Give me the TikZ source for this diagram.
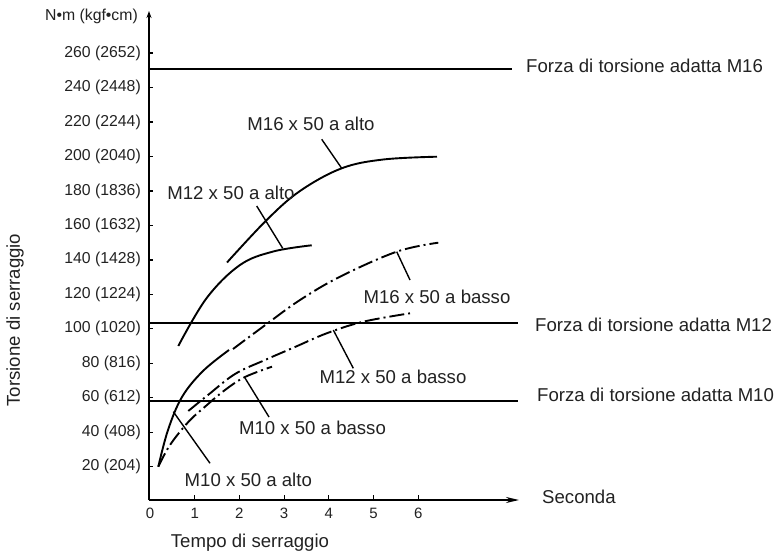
\documentclass[tikz,border=0pt]{standalone}
\usepackage{fontspec}
\setmainfont{Liberation Sans}
\usetikzlibrary{arrows.meta}
\definecolor{txt}{HTML}{222222}
\begin{document}
\begin{tikzpicture}[x=1pt,y=-1pt,
  lbl/.style={font=\fontsize{18.6}{20}\selectfont, text=txt, inner sep=0pt},
  tck/.style={font=\fontsize{15.8}{18}\selectfont, text=txt, inner sep=0pt, anchor=east},
  xtck/.style={font=\fontsize{15}{17}\selectfont, text=txt, inner sep=0pt},
  axisline/.style={line width=1.7pt, black},
  hline/.style={line width=1.6pt, black},
  solidcurve/.style={line width=1.9pt, black},
  dashcurve/.style={line width=1.9pt, black, dash pattern=on 15pt off 4pt on 2pt off 4pt},
  leader/.style={line width=1.4pt, black}]
\path[use as bounding box, fill=white] (0,0) rectangle (782,556);

% axes
\coordinate (O) at (149,500);
\coordinate (ytop) at (149,11);
\coordinate (xend) at (519,500);
\draw[axisline, -{Stealth[length=7pt,width=5pt]}] (O) -- (ytop);
\draw[axisline, -{Stealth[length=13pt,width=6pt]}] (O) -- (xend);

% y ticks and labels
\foreach \v/\k in {20/204,40/408,60/612,80/816,100/1020,120/1224,140/1428,160/1632,180/1836,200/2040,220/2244,240/2448,260/2652}{
  \draw[line width=1.2pt] (149,{501.2-\v*1.7235}) -- (153,{501.2-\v*1.7235});
  \node[tck] (yl\v) at (141,{501.2-\v*1.7235}) {\v\ (\k)};
}
\node[tck] (unit) at (138,16) {N•m (kgf•cm)};

% x ticks and labels
\foreach \t in {1,...,6}{
  \draw[line width=1.2pt] ({150+44.7*\t},500) -- ({150+44.7*\t},495);
}
\foreach \t in {0,...,6}{
  \node[xtck] (xl\t) at ({150+44.7*\t},513) {\t};
}

% axis titles
\node[lbl, rotate=90] (ytitle) at (15,320) {Torsione di serraggio};
\node[lbl] (xtitle) at (250,543) {Tempo di serraggio};
\node[lbl, anchor=west] (sec) at (542,497) {Seconda};

% horizontal limit lines
\coordinate (h16a) at (149,69);   \coordinate (h16b) at (512,69);
\coordinate (h12a) at (149,323);  \coordinate (h12b) at (518,323);
\coordinate (h10a) at (149,401);  \coordinate (h10b) at (518,401);
\draw[hline] (h16a) -- (h16b);
\draw[hline] (h12a) -- (h12b);
\draw[hline] (h10a) -- (h10b);
\node[lbl, anchor=west] (f16) at (526,66) {Forza di torsione adatta M16};
\node[lbl, anchor=west] (f12) at (535,325) {Forza di torsione adatta M12};
\node[lbl, anchor=west] (f10) at (537,395) {Forza di torsione adatta M10};

% curves
\draw[solidcurve] plot[smooth, tension=0.6] coordinates {(227,262.5) (266.7,220) (300,191) (341.7,168.3) (383.3,159.5) (437,156.7)};
\draw[solidcurve] plot[smooth, tension=0.6] coordinates {(178.3,346) (206.7,298) (240,265) (273.3,251.5) (311.7,245.3)};
\draw[solidcurve] plot[smooth, tension=0.6] coordinates {(158.3,466.7) (168,430) (182,397) (203,371) (229,350)};
\draw[dashcurve] plot[smooth, tension=0.6] coordinates {(233,349) (266.7,324) (300,300) (340,276.7) (396.7,251.7) (438.3,242.7)};
\draw[dashcurve] plot[smooth, tension=0.6] coordinates {(188.3,411) (208,395) (235,374) (265,360) (295,347) (326.7,333.3) (363.3,321.7) (410,313.3)};
\draw[dashcurve] plot[smooth, tension=0.6] coordinates {(158.3,466.7) (170,445) (188.3,422) (205,406.7) (225,390) (245,377) (272,366.7)};

% curve labels and leaders
\node[lbl] (c16a) at (311,124) {M16 x 50 a alto};
\node[lbl] (c12a) at (231,193) {M12 x 50 a alto};
\node[lbl] (c16b) at (437,296.5) {M16 x 50 a basso};
\node[lbl] (c12b) at (393,376.7) {M12 x 50 a basso};
\node[lbl] (c10b) at (312.5,428) {M10 x 50 a basso};
\node[lbl] (c10a) at (248.3,480) {M10 x 50 a alto};

\coordinate (p16a) at (341.7,168.3); \coordinate (q16a) at (321.7,139.3);
\coordinate (p12a) at (282.7,248.3); \coordinate (q12a) at (256.7,206);
\coordinate (p16b) at (396.7,251.7); \coordinate (q16b) at (410,280);
\coordinate (p12b) at (333.3,330);   \coordinate (q12b) at (353.3,368.3);
\coordinate (p10b) at (245,378);     \coordinate (q10b) at (269,417);
\coordinate (p10a) at (173.3,411.7); \coordinate (q10a) at (210,463.3);
\draw[leader] (p16a) -- (q16a);
\draw[leader] (p12a) -- (q12a);
\draw[leader] (p16b) -- (q16b);
\draw[leader] (p12b) -- (q12b);
\draw[leader] (p10b) -- (q10b);
\draw[leader] (p10a) -- (q10a);
\end{tikzpicture}
\end{document}
